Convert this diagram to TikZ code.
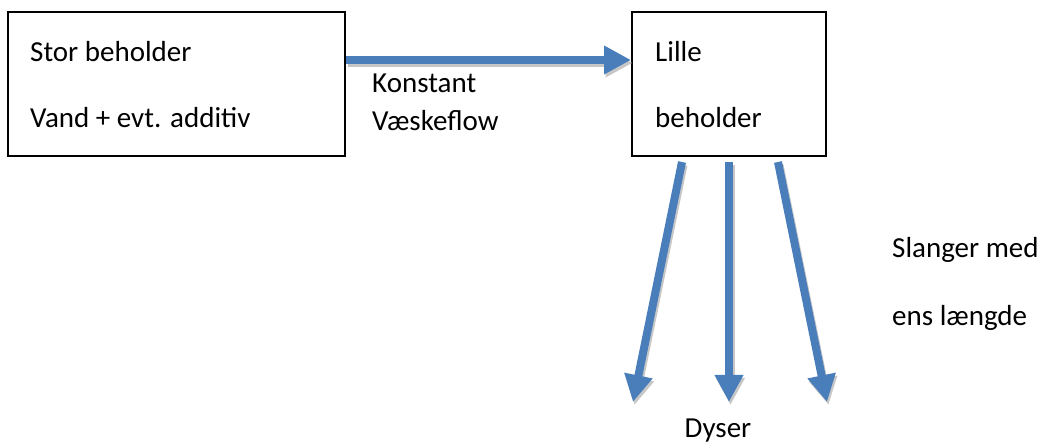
\documentclass[tikz,border=0pt]{standalone}
\usepackage{fontspec}
\setmainfont{Carlito}
\usetikzlibrary{arrows.meta}
\definecolor{flowblue}{RGB}{74,126,187}
\tikzset{
  box/.style={draw=black, line width=2bp, fill=white, inner sep=0pt},
  lbl/.style={anchor=base west, inner sep=0pt, font=\fontsize{29bp}{35bp}\selectfont},
  flow/.style={draw=flowblue, line width=8bp, -{Triangle[length=27bp,width=27bp]},
    preaction={draw=black!22, line width=8bp, -{Triangle[length=27bp,width=27bp]}, transform canvas={shift={(1.5bp,-3bp)}}}}
}
\begin{document}
\begin{tikzpicture}[x=1bp,y=-1bp]
\useasboundingbox (0,0) rectangle (1043,443);
\node[box, minimum width=337bp, minimum height=144bp] (stor) at (176.5,84) {};
\node[box, minimum width=194bp, minimum height=144bp] (lille) at (729,84) {};
\node[lbl] (t1) at (30,62) {Stor beholder};
\node[lbl] (t2) at (30,128) {Vand + evt. additiv};
\node[lbl] (t3) at (655,62) {Lille};
\node[lbl] (t4) at (655,128) {beholder};
\node[lbl] (t5) at (372,93) {Konstant};
\node[lbl] (t6) at (372,131) {Væskeflow};
\node[lbl] (t7) at (892,258) {Slanger med};
\node[lbl] (t8) at (892,326) {ens længde};
\node[lbl, anchor=base] (t9) at (718,437) {Dyser};
\coordinate (s1) at (682,162);
\coordinate (s2) at (729,162);
\coordinate (s3) at (778,162);
\coordinate (e1) at (633,402);
\coordinate (e2) at (729,402);
\coordinate (e3) at (827,402);
\draw[flow] ([yshift=24bp]stor.east) -- ([yshift=24bp]lille.west);
\draw[flow] (s1) -- (e1);
\draw[flow] (s2) -- (e2);
\draw[flow] (s3) -- (e3);
\end{tikzpicture}
\end{document}
